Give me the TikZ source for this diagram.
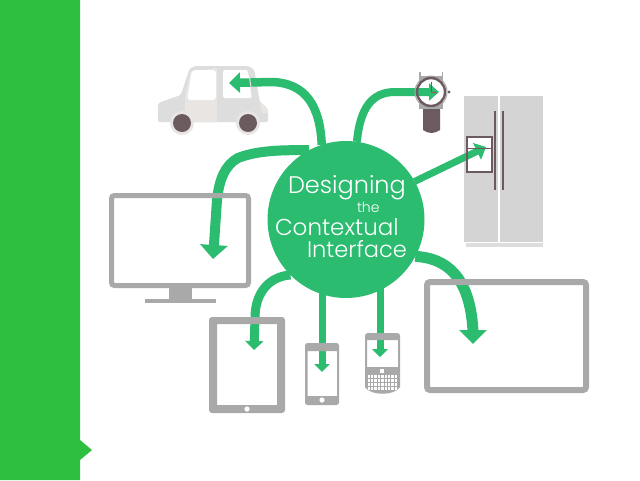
\documentclass[tikz,border=0pt]{standalone}
\usepackage{fontspec}
\setmainfont{Poppins}[UprightFont={* Light}]
\usetikzlibrary{arrows.meta}
\definecolor{side}{RGB}{46,190,64}
\definecolor{hubg}{RGB}{43,188,112}
\definecolor{frameg}{RGB}{169,169,169}
\definecolor{fridgeg}{RGB}{212,212,212}
\definecolor{cardk}{RGB}{107,91,95}
\definecolor{carl}{RGB}{222,221,221}
\definecolor{carm}{RGB}{233,229,227}
\definecolor{handr}{RGB}{170,70,85}
\tikzset{
  flow/.style={draw=hubg,line cap=butt},
  dev/.style={draw=frameg,rounded corners=3pt},
  title/.style={text=white,anchor=base west,inner sep=0pt,outer sep=0pt},
}
\newcommand{\headtip}[2]{-{Triangle[width=#1pt,length=#2pt,fill=hubg]}}
\begin{document}
\begin{tikzpicture}[x=1pt,y=-1pt]
\useasboundingbox (0,0) rectangle (640,480);
\fill[white] (0,0) rectangle (640,480);
% sidebar
\fill[side] (0,0) -- (80,0) -- (80,440) -- (92,450) -- (80,460) -- (80,480) -- (0,480) -- cycle;
% hub (anchors only at this point)
\node[circle,minimum size=157pt,inner sep=0pt,outer sep=0pt] (hub) at (346,219.5) {};
% fridge body
\fill[fridgeg] (464,96) rectangle (543,242);
\fill[carl] (466,243) rectangle (543,247);
\fill[white] (498.3,96) rectangle (500,243);
\draw[cardk,line width=1.8pt] (495,111) -- (495,190);
\draw[cardk,line width=1.8pt] (503,111) -- (503,190);
\fill[white] (467,137) rectangle (492,172);
% car
\fill[carl,rounded corners=2pt] (158,122) -- (158,103) -- (181,95) -- (188,73)
  .. controls (190,68) and (193,66) .. (198,66) -- (244,66)
  .. controls (250,66) and (254,69) .. (255,74) -- (260,103)
  .. controls (265,105) and (268,109) .. (268,114) -- (268,122) -- cycle;
\fill[carm] (185,97) -- (190,72) -- (217,68) -- (217,122) -- (185,122) -- cycle;
\fill[white,rounded corners=3pt] (192,70) -- (216,70) -- (216,100) -- (187,100) -- cycle;
\fill[white,rounded corners=2pt] (223,70) -- (248,70) -- (252,98) -- (223,98) -- cycle;
\fill[carm] (260,104) .. controls (265,105) and (268,109) .. (268,113) -- (262,113) -- cycle;
\fill[carm] (182,123) circle (12pt);
\fill[carm] (248,123) circle (12pt);
\node[circle,fill=cardk,minimum size=18pt,inner sep=0pt] (wheelA) at (182,123) {};
\node[circle,fill=cardk,minimum size=18pt,inner sep=0pt] (wheelB) at (248,123) {};
% watch below arrow
\fill[frameg] (419,72) rectangle (420.5,84);
\fill[frameg] (441.5,72) rectangle (443,84);
\fill[frameg] (420,76) rectangle (442,80);
\fill[frameg] (419,100) rectangle (443,109);
\fill[cardk] (423,109) -- (440,109) -- (440,130) .. controls (434,134) and (429,134) .. (423,130) -- cycle;
\fill[cardk] (449,92) circle (1.7pt);
\fill[white] (431,92) circle (13pt);
% target points
\coordinate (carT) at (229,83);
\coordinate (watchT) at (439,92);
\coordinate (monT) at (213,259);
\coordinate (fridgeT) at (486,147);
\coordinate (tabT) at (254,350);
\coordinate (phoneT) at (322,372);
\coordinate (bbT) at (380,357);
\coordinate (bigT) at (473,344);
% arrows
\draw[flow,line width=8.5pt,\headtip{20}{11}] (hub.108) .. controls (320,105) and (305,83) .. (272,82) -- (carT);
\draw[flow,line width=8pt,\headtip{17}{10}] (hub.82) .. controls (360,108) and (372,92) .. (395,92) -- (watchT);
\draw[flow,line width=10pt,\headtip{27}{14}] (hub.118) .. controls (285,150) and (258,150) .. (238,158) .. controls (225,165) and (219,180) .. (217,200) -- (monT);
\draw[flow,line width=7pt,\headtip{18}{10}] (hub.29) -- (fridgeT);
\draw[flow,line width=9pt,\headtip{18}{9}] (hub.-135) .. controls (272,276) and (255,290) .. (255,318) -- (tabT);
\draw[flow,line width=7pt,\headtip{15}{8}] (phoneT |- hub.center) -- (phoneT);
\draw[flow,line width=7pt,\headtip{16}{8}] (bbT |- hub.center) -- (bbT);
\draw[flow,line width=11pt,\headtip{27}{14}] (hub.-28) .. controls (445,258) and (470,275) .. (473,331) -- (bigT);
% hub
\fill[hubg] (hub.center) circle (78.5pt);
% text
\node[title,font=\fontsize{24}{24}\selectfont] (t1) at (288,193) {Designing};
\node[title,font=\fontsize{14}{15}\selectfont] (t2) at (357,212) {the};
\node[title,font=\fontsize{23}{24}\selectfont] (t3) at (275,235) {Contextual};
\node[title,font=\fontsize{22.5}{24}\selectfont] (t4) at (307,257) {Interface};
% car post over arrow
\draw[carl,line width=1pt] (248.5,70) -- (252.5,98);
% watch on top
\draw[frameg,line width=1pt] (431,92) circle (16pt);
\draw[cardk,line width=2.4pt] (431,92) circle (14pt);
\draw[cardk,line width=1pt] (431,92) -- (431,82);
\draw[handr,line width=0.8pt] (431,92) -- (437,93);
% fridge dispenser frame
\draw[cardk,line width=2pt] (467,137) rectangle (492,172);
\draw[cardk,line width=1pt] (467,148) -- (492,148);
% monitor
\draw[dev,line width=5pt] (111.5,195.5) rectangle (248.5,285.5);
\fill[frameg] (169,288) rectangle (192,300);
\fill[frameg] (145,299) rectangle (216,303);
% tablet
\fill[frameg,rounded corners=3pt,even odd rule] (209,317) rectangle (285,413) {[sharp corners] (217,324) rectangle (277,405)};
\fill[white] (247,409) circle (2.6pt);
% phone
\fill[frameg,rounded corners=2.5pt,even odd rule] (305,343) rectangle (339,405) {[sharp corners] (307.5,351) rectangle (337,396)};
\fill[white] (322,400) circle (2.6pt);
% blackberry
\fill[frameg,even odd rule] (368,333) -- (397,333) .. controls (399,333) and (400,334) .. (400,336) -- (400,387) .. controls (395,396) and (370,396) .. (365,387) -- (365,336) .. controls (365,334) and (366,333) .. (368,333) -- cycle (367,340) rectangle (398,367);
\fill[white] (380,369) rectangle (384,373);
\foreach \r/\yy in {0/375,1/379,2/383,3/387}{
  \foreach \c in {0,...,8}{
    \fill[white] ({367.5+\c*3.4},\yy) rectangle ({370+\c*3.4},{\yy+2.6});
  }
}
% big tablet
\draw[dev,line width=6pt] (427,282) rectangle (586,390);
\end{tikzpicture}
\end{document}
